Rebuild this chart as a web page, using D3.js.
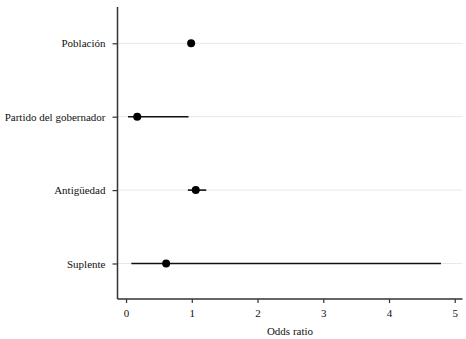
<!DOCTYPE html>
<html><head><meta charset="utf-8">
<script src="https://cdn.jsdelivr.net/npm/d3@7"></script>
<style>body{margin:0;background:#fff}svg{display:block}text{font-family:"Liberation Serif","Times New Roman",serif}</style>
</head><body><svg id="c" width="466" height="339"></svg>
<script>
const categories = ["Población", "Partido del gobernador", "Antigüedad", "Suplente"];
const oddsRatio = [0.99, 0.17, 1.06, 0.61];
const ciLow = [0.97, 0.03, 0.94, 0.08];
const ciHigh = [1.01, 0.95, 1.22, 4.79];
const xTicks = [0, 1, 2, 3, 4, 5];

(function () {
const svg = d3.select("#c");
const mLeft = 117.5, mRight = 462.5, mTop = 7, mBottom = 299;
const x = d3.scaleLinear().domain([-0.13, 5.118]).range([mLeft, mRight]);
const y = d3.scalePoint().domain(categories).range([43.3, 263.5]);

// grid
svg.append("g").selectAll("line").data(categories).join("line")
  .attr("x1", mLeft).attr("x2", mRight)
  .attr("y1", d => y(d)).attr("y2", d => y(d))
  .attr("stroke", "#e8e8e8").attr("stroke-width", 1);

// CIs
const data = categories.map((c, i) => ({c, or: oddsRatio[i], lo: ciLow[i], hi: ciHigh[i]}));
svg.append("g").selectAll("line").data(data).join("line")
  .attr("x1", d => x(d.lo)).attr("x2", d => x(d.hi))
  .attr("y1", d => y(d.c)).attr("y2", d => y(d.c))
  .attr("stroke", "#111").attr("stroke-width", 1.6);
svg.append("g").selectAll("circle").data(data).join("circle")
  .attr("cx", d => x(d.or)).attr("cy", d => y(d.c)).attr("r", 4)
  .attr("fill", "#000");

// axes
const yAxis = svg.append("g").attr("transform", `translate(${mLeft},0)`)
  .call(d3.axisLeft(y).tickSize(5).tickPadding(7));
yAxis.select(".domain").remove();
svg.append("line").attr("x1", mLeft).attr("x2", mLeft).attr("y1", mTop).attr("y2", mBottom)
  .attr("stroke", "#333").attr("stroke-width", 1.5);
const xAxis = svg.append("g").attr("transform", `translate(0,${mBottom})`)
  .call(d3.axisBottom(x).tickValues(xTicks).tickFormat(d3.format("d")).tickSize(4).tickPadding(6));
xAxis.select(".domain").remove();
svg.append("line").attr("x1", mLeft).attr("x2", mRight).attr("y1", mBottom).attr("y2", mBottom)
  .attr("stroke", "#333").attr("stroke-width", 1.5);
svg.selectAll(".tick line").attr("stroke", "#333").attr("stroke-width", 1.2);
svg.selectAll(".tick text").attr("font-size", 11).attr("fill", "#111")
  .style("font-family", '"Liberation Serif","Times New Roman",serif');

svg.append("text").attr("x", (mLeft + mRight) / 2).attr("y", 335)
  .attr("text-anchor", "middle").attr("font-size", 11).attr("fill", "#111").text("Odds ratio");
})();
</script></body></html>
